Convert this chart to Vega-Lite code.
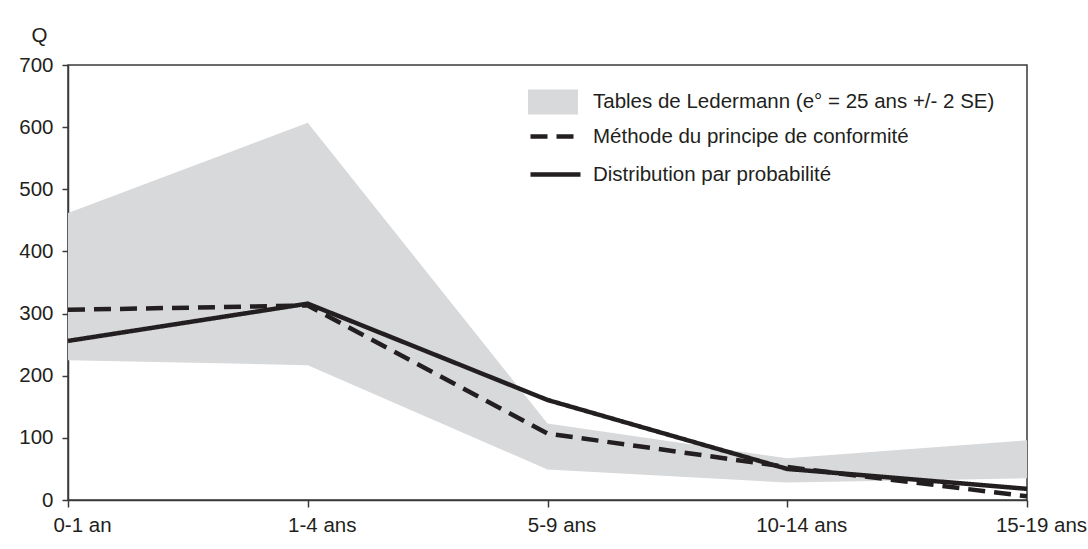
{
  "$schema": "https://vega.github.io/schema/vega-lite/v6.json",
  "autosize": "none",
  "width": 959,
  "height": 435,
  "padding": {"left": 68, "top": 65, "right": 61, "bottom": 49},
  "background": "white",
  "config": {
    "font": "Liberation Sans",
    "view": {"stroke": "#3a3a3a", "strokeWidth": 1.5},
    "axis": {"labelFont": "Liberation Sans", "titleFont": "Liberation Sans", "labelColor": "#231f20", "titleColor": "#231f20", "domainColor": "#3a3a3a", "tickColor": "#3a3a3a", "domainWidth": 1.5, "tickWidth": 1.5, "grid": false, "labelFontSize": 20.5, "titleFontSize": 20.5, "titleFontWeight": "normal"},
    "legend": {"labelFont": "Liberation Sans", "labelFontSize": 20.5, "labelColor": "#231f20", "labelLimit": 0}
  },
  "datasets": {
    "band": [
      {"age": "0-1 an", "lo": 225, "hi": 462},
      {"age": "1-4 ans", "lo": 217, "hi": 607},
      {"age": "5-9 ans", "lo": 49, "hi": 123},
      {"age": "10-14 ans", "lo": 28, "hi": 67},
      {"age": "15-19 ans", "lo": 35, "hi": 96}
    ],
    "lines": [
      {"age": "0-1 an", "serie": "Méthode du principe de conformité", "q": 306},
      {"age": "1-4 ans", "serie": "Méthode du principe de conformité", "q": 313},
      {"age": "5-9 ans", "serie": "Méthode du principe de conformité", "q": 107},
      {"age": "10-14 ans", "serie": "Méthode du principe de conformité", "q": 53},
      {"age": "15-19 ans", "serie": "Méthode du principe de conformité", "q": 6},
      {"age": "0-1 an", "serie": "Distribution par probabilité", "q": 256},
      {"age": "1-4 ans", "serie": "Distribution par probabilité", "q": 316},
      {"age": "5-9 ans", "serie": "Distribution par probabilité", "q": 161},
      {"age": "10-14 ans", "serie": "Distribution par probabilité", "q": 50},
      {"age": "15-19 ans", "serie": "Distribution par probabilité", "q": 18}
    ]
  },
  "layer": [
    {
      "data": {"name": "band"},
      "mark": {"type": "area", "opacity": 1},
      "encoding": {
        "x": {"field": "age", "type": "ordinal", "sort": ["0-1 an", "1-4 ans", "5-9 ans", "10-14 ans", "15-19 ans"],
              "scale": {"type": "point", "padding": 0},
              "axis": {"title": null, "labelAngle": 0, "labelOffset": 14, "labelPadding": 8, "tickSize": 7}},
        "y": {"field": "hi", "type": "quantitative", "scale": {"domain": [0, 700]},
              "axis": {"title": "Q", "values": [0, 100, 200, 300, 400, 500, 600, 700], "tickSize": 6, "labelPadding": 9, "titleAngle": 0, "titleX": -29, "titleY": -30, "titleAlign": "center", "titleBaseline": "middle"}},
        "y2": {"field": "lo"},
        "fill": {"datum": "Tables de Ledermann (e° = 25 ans +/- 2 SE)", "type": "nominal",
                 "scale": {"range": ["#d8d9db"]},
                 "legend": {"title": null, "orient": "none", "legendX": 460, "legendY": 12, "symbolType": "M-1,-0.5H1V0.5H-1Z", "symbolSize": 2500, "symbolStrokeWidth": 0, "labelOffset": 15, "symbolOpacity": 1}}
      }
    },
    {
      "data": {"name": "lines"},
      "mark": {"type": "line", "color": "#231f20", "strokeWidth": 4.5},
      "encoding": {
        "x": {"field": "age", "type": "ordinal", "sort": ["0-1 an", "1-4 ans", "5-9 ans", "10-14 ans", "15-19 ans"]},
        "y": {"field": "q", "type": "quantitative"},
        "strokeDash": {"field": "serie", "type": "nominal",
                       "scale": {"domain": ["Méthode du principe de conformité", "Distribution par probabilité"], "range": [[17, 9], [1, 0]]},
                       "legend": {"title": null, "orient": "none", "legendX": 460, "legendY": 44, "symbolType": "stroke", "symbolSize": 2500, "symbolStrokeWidth": 4.5, "symbolStrokeColor": "#231f20", "labelOffset": 10, "rowPadding": -20.5}}
      }
    }
  ]
}
